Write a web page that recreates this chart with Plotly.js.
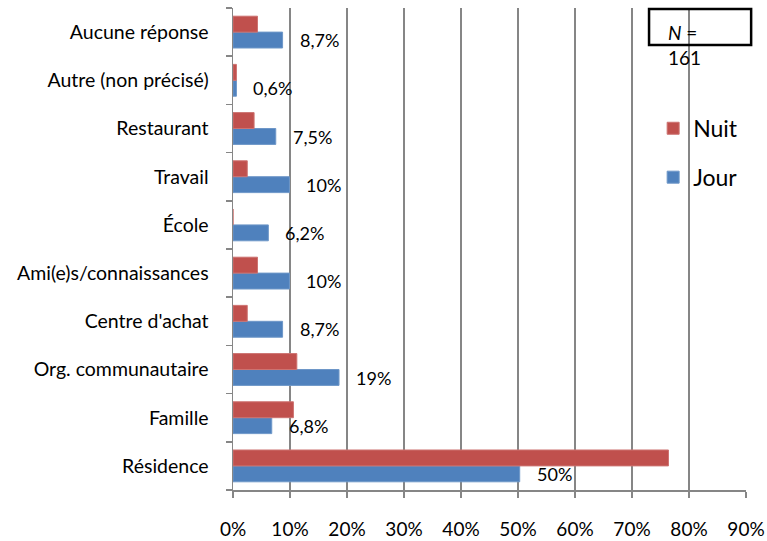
<!DOCTYPE html>
<html>
<head>
<meta charset="utf-8">
<script src="https://cdn.plot.ly/plotly-3.0.1.min.js"></script>
<style>html,body{margin:0;padding:0;background:#fff;}#chart{width:767px;height:541px;}</style>
</head>
<body>
<div id="chart"></div>
<script>
// Categories listed from bottom to top
const categories = ['Résidence', 'Famille', 'Org. communautaire', "Centre d'achat", 'Ami(e)s/connaissances', 'École', 'Travail', 'Restaurant', 'Autre (non précisé)', 'Aucune réponse'];
const jourValues = [50.3, 6.8, 18.6, 8.7, 9.9, 6.2, 9.9, 7.5, 0.6, 8.7];
const nuitValues = [76.4, 10.6, 11.2, 2.5, 4.3, 0, 2.5, 3.7, 0.6, 4.3];
const jourLabels = ['50%', '6,8%', '19%', '8,7%', '10%', '6,2%', '10%', '7,5%', '0,6%', '8,7%'];
const xTickVals = [0, 10, 20, 30, 40, 50, 60, 70, 80, 90];
const xTickText = ['0%', '10%', '20%', '30%', '40%', '50%', '60%', '70%', '80%', '90%'];
const sampleText = '<i>N</i> =<br>161';

const FONT = 'Lato, "Liberation Sans", sans-serif';
const GRID = '#868686';

const traces = [
  {type: 'bar', orientation: 'h', name: 'Jour', y: categories, x: jourValues,
   marker: {color: '#4F81BD', line: {color: '#6E97C8', width: 1}}, legendgroup: 'j', legendrank: 2, hoverinfo: 'x+y'},
  {type: 'bar', orientation: 'h', name: 'Nuit', y: categories, x: nuitValues,
   marker: {color: '#C0504D', line: {color: '#CD7371', width: 1}}, legendgroup: 'n', legendrank: 1, hoverinfo: 'x+y'}
];

const annotations = categories.map((c, i) => ({
  x: jourValues[i], y: c, xref: 'x', yref: 'y', text: jourLabels[i],
  showarrow: false, xanchor: 'left', yanchor: 'middle', xshift: 15, yshift: -8,
  font: {family: FONT, size: 18, color: '#000'}
}));
annotations.push({
  xref: 'paper', yref: 'paper', x: 0.844, y: 0.978, xanchor: 'left', yanchor: 'top', align: 'left',
  text: sampleText, showarrow: false, font: {family: FONT, size: 19, color: '#000'}
});

const layout = {
  width: 767, height: 541,
  margin: {l: 233, r: 21, t: 8, b: 51},
  paper_bgcolor: '#fff', plot_bgcolor: 'rgba(0,0,0,0)',
  font: {family: FONT, size: 18, color: '#000'},
  barmode: 'group', bargap: 0.34, bargroupgap: 0,
  showlegend: true,
  legend: {x: 0.819, y: 0.795, xanchor: 'left', yanchor: 'top', bgcolor: 'rgba(0,0,0,0)',
           traceorder: 'grouped', tracegroupgap: 16, font: {family: FONT, size: 23, color: '#000'}},
  xaxis: {range: [0, 90], tickvals: xTickVals, ticktext: xTickText, showgrid: true, gridcolor: GRID, gridwidth: 1.5,
          showline: true, linecolor: GRID, linewidth: 1.5, ticks: 'outside', ticklen: 6, tickcolor: GRID, tickwidth: 1.5,
          ticklabelstandoff: 16, zeroline: false, fixedrange: true, tickfont: {family: FONT, size: 19, color: '#000'}},
  yaxis: {type: 'category', showgrid: false, showline: true, linecolor: GRID, linewidth: 1.5, ticks: 'outside',
          tickson: 'boundaries', ticklen: 6, tickcolor: GRID, tickwidth: 1.5, ticklabelstandoff: 19,
          fixedrange: true, tickfont: {family: FONT, size: 19.5, color: '#000'}},
  shapes: [{type: 'rect', xref: 'paper', yref: 'paper', x0: 0.811, x1: 1.01, y0: 0.923, y1: 0.998,
            line: {color: '#000', width: 2.5}, fillcolor: 'rgba(0,0,0,0)'}],
  annotations: annotations
};

Plotly.newPlot('chart', traces, layout, {displayModeBar: false, staticPlot: true});
</script>
</body>
</html>
